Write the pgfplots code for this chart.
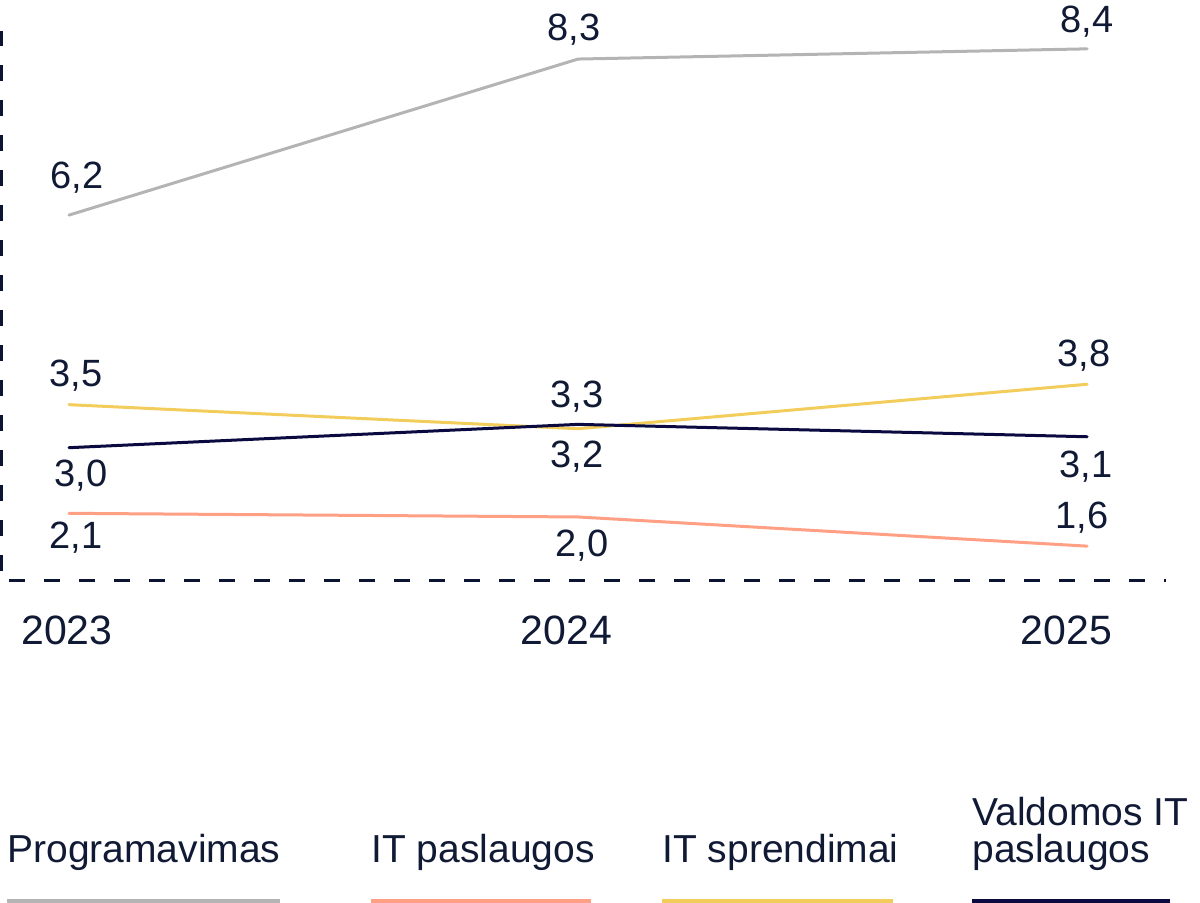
\documentclass[border=0pt]{standalone}
\usepackage{pgfplots}
\pgfplotsset{compat=1.18}
\usepackage{fontspec}
\setmainfont{Liberation Sans}
\definecolor{cText}{HTML}{111A35}
\definecolor{cAxis}{HTML}{0B1433}
\definecolor{cProg}{HTML}{B4B4B4}
\definecolor{cPasl}{HTML}{FFA084}
\definecolor{cSpr}{HTML}{F2CD5C}
\definecolor{cVald}{HTML}{0A0A40}
\newcommand{\lblfont}{\fontsize{19}{22}\selectfont}
\newcommand{\tickfont}{\fontsize{20.5}{24}\selectfont}
\newcommand{\legfont}{\fontsize{19.5}{18.5}\selectfont}
\pgfplotsset{
  lbl/.style={
    nodes near coords,
    point meta=explicit symbolic,
    visualization depends on={\thisrow{dx} \as \dx},
    visualization depends on={\thisrow{dy} \as \dy},
    every node near coord/.append style={anchor=base, inner sep=0pt,
      xshift=\dx pt, yshift=\dy pt, text=cText, font=\lblfont},
  },
}
\begin{document}
\begin{tikzpicture}
\useasboundingbox (0,0) rectangle (600pt,451.5pt);
\begin{axis}[
  at={(0.75pt,161pt)}, anchor=south west,
  scale only axis, width=582.25pt, height=275pt,
  xmin=-0.1326, xmax=2.155,
  ymin=1.132, ymax=8.675,
  axis x line*=bottom, axis y line*=left,
  x axis line style={-, cAxis, line width=1.5pt, dash pattern=on 8pt off 9.5pt, dash phase=13.75pt},
  y axis line style={-, cAxis, line width=1.5pt, dash pattern=on 8pt off 9.5pt, dash phase=12.5pt},
  xtick={-0.004,0.977,1.959},
  xticklabels={2023,2024,2025},
  ytick=\empty,
  major tick length=0pt,
  xticklabel style={anchor=base, yshift=-32pt, text=cText, font=\tickfont, inner sep=0pt},
  clip=false,
]
\addplot[cProg, line width=1.5pt, line cap=round, lbl] table[x=x, y=y, meta=lab] {
x y lab dx dy
0 6.15 6,2 4 13.5
1 8.29 8,3 -2 9.5
2 8.43 8,4 0 8
};
\addplot[cPasl, line width=1.5pt, line cap=round, lbl] table[x=x, y=y, meta=lab] {
x y lab dx dy
0 2.06 2,1 3.5 -17.5
1 2.01 2,0 2 -20
2 1.61 1,6 -2.5 9
};
\addplot[cSpr, line width=1.5pt, line cap=round, lbl] table[x=x, y=y, meta=lab] {
x y lab dx dy
0 3.55 3,5 3.5 9
1 3.22 3,3 -0.5 10.5
2 3.83 3,8 -1.5 9
};
\addplot[cVald, line width=1.5pt, line cap=round, lbl] table[x=x, y=y, meta=lab] {
x y lab dx dy
0 2.96 3,0 6 -19.5
1 3.28 3,2 -0.5 -21.5
2 3.11 3,1 -0.5 -20.5
};
\end{axis}
% legend
\node[anchor=base west, inner sep=0pt, text=cText, font=\legfont] at (3.5pt,20pt) {Programavimas};
\draw[cProg, line width=2pt] (3.5pt,1pt) -- (140pt,1pt);
\node[anchor=base west, inner sep=0pt, text=cText, font=\legfont] at (185.5pt,20pt) {IT paslaugos};
\draw[cPasl, line width=2pt] (185.5pt,1pt) -- (295.5pt,1pt);
\node[anchor=base west, inner sep=0pt, text=cText, font=\legfont] at (331pt,20pt) {IT sprendimai};
\draw[cSpr, line width=2pt] (331pt,1pt) -- (446.5pt,1pt);
\node[anchor=base west, inner sep=0pt, text=cText, font=\legfont] at (486pt,38.5pt) {Valdomos IT};
\node[anchor=base west, inner sep=0pt, text=cText, font=\legfont] at (486pt,20pt) {paslaugos};
\draw[cVald, line width=2pt] (486pt,1pt) -- (585pt,1pt);
\end{tikzpicture}
\end{document}
